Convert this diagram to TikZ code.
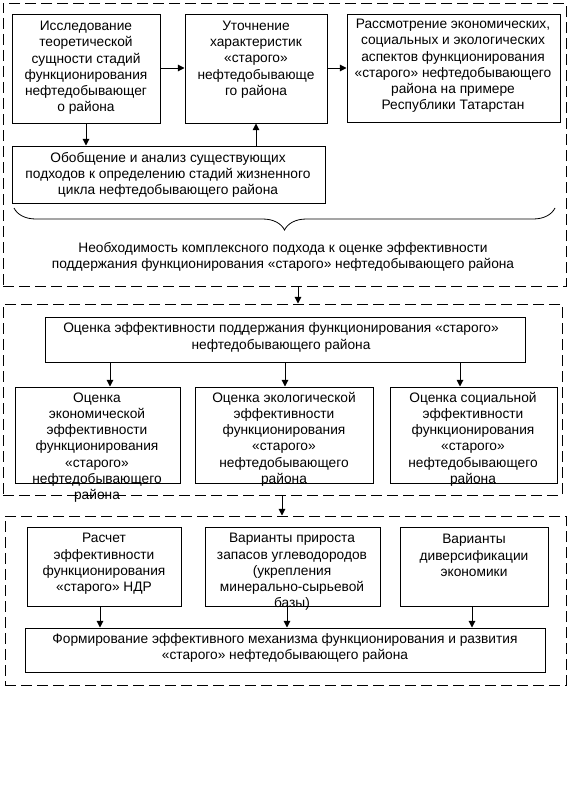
\documentclass[tikz,border=0pt]{standalone}
\usepackage{fontspec}
\setmainfont{Liberation Sans}
\usetikzlibrary{arrows.meta,fit,decorations.pathreplacing}
\tikzset{
  frame/.style={draw, line width=0.75pt, dash pattern=on 8pt off 4pt},
  box/.style={draw, line width=0.75pt, inner sep=0pt, fit={#1}},
  txt/.style={align=center, inner sep=0pt, font=\fontsize{10.3}{12.2}\selectfont},
  arr/.style={line width=0.75pt, -{Triangle[length=5pt,width=5pt]}},
}
\begin{document}
\begin{tikzpicture}[x=0.75pt,y=-0.75pt]
\useasboundingbox (0,0) rectangle (570,785);
% section 1
\node[frame, inner sep=0pt, fit={(3,3) (566,286)}] (s1) {};
\node[box={(12,14) (160,123)}] (a) {};
\node[txt] (at) at (86,68) {Исследование\\теоретической\\сущности стадий\\функционирования\\нефтедобывающег\\о района};
\node[box={(185,14) (327,123)}] (b) {};
\node[txt] (bt) at (256,59.5) {Уточнение\\характеристик\\«старого»\\нефтедобывающе\\го района};
\node[box={(347,14) (560,122)}] (c) {};
\node[txt] (ct) at (453,66) {Рассмотрение экономических,\\социальных и экологических\\аспектов функционирования\\«старого» нефтедобывающего\\района на примере\\Республики Татарстан};
\node[box={(12,146) (325,203)}] (d) {};
\node[txt] (dt) at (168,175) {Обобщение и анализ существующих\\подходов к определению стадий жизненного\\цикла нефтедобывающего района};
\coordinate (brL) at (14,208);
\coordinate (brR) at (555,208);
\draw[line width=0.6pt, decorate, decoration={brace, mirror, amplitude=16.5pt, aspect=0.5}] (brL) -- (brR);
\node[txt] (need) at (283,257) {Необходимость комплексного подхода к оценке эффективности\\поддержания функционирования «старого» нефтедобывающего района};
\draw[arr] (a.east |- 0,68) -- (b.west |- 0,68);
\draw[arr] (b.east |- 0,68) -- (c.west |- 0,68);
\draw[arr] (a.south -| 86,0) -- (d.north -| 86,0);
\draw[arr] (d.north -| 256,0) -- (b.south -| 256,0);
% section 2
\node[frame, inner sep=0pt, fit={(3,304) (562,495)}] (s2) {};
\draw[arr] (s1.south -| 298,0) -- (s2.north -| 298,0);
\node[box={(45,317) (525,362)}] (e) {};
\node[txt] (et) at (281,337.5) {Оценка эффективности поддержания функционирования «старого»\\нефтедобывающего района};
\node[box={(15,387) (180,483)}] (f1) {};
\node[txt] (f1t) at (97,447.5) {Оценка\\экономической\\эффективности\\функционирования\\«старого»\\нефтедобывающего\\района};
\node[box={(195,387) (373,483)}] (f2) {};
\node[txt] (f2t) at (284,439) {Оценка экологической\\эффективности\\функционирования\\«старого»\\нефтедобывающего\\района};
\node[box={(390,387) (557,483)}] (f3) {};
\node[txt] (f3t) at (473,439) {Оценка социальной\\эффективности\\функционирования\\«старого»\\нефтедобывающего\\района};
\draw[arr] (e.south -| 110,0) -- (f1.north -| 110,0);
\draw[arr] (e.south -| 285,0) -- (f2.north -| 285,0);
\draw[arr] (e.south -| 460,0) -- (f3.north -| 460,0);
% section 3
\node[frame, inner sep=0pt, fit={(5,516) (566,685)}] (s3) {};
\draw[arr] (s2.south -| 282,0) -- (s3.north -| 282,0);
\node[box={(27,527) (181,606)}] (g1) {};
\node[txt] (g1t) at (104,564) {Расчет\\эффективности\\функционирования\\«старого» НДР};
\node[box={(205,527) (380,606)}] (g2) {};
\node[txt] (g2t) at (292,572) {Варианты прироста\\запасов углеводородов\\(укрепления\\минерально-сырьевой\\базы)};
\node[box={(400,527) (548,606)}] (g3) {};
\node[txt] (g3t) at (474,555.5) {Варианты\\диверсификации\\экономики};
\node[box={(25,628) (545,672)}] (h) {};
\node[txt] (ht) at (285,648) {Формирование эффективного механизма функционирования и развития\\«старого» нефтедобывающего района};
\draw[arr] (g1.south -| 100,0) -- (h.north -| 100,0);
\draw[arr] (g2.south -| 287,0) -- (h.north -| 287,0);
\draw[arr] (g3.south -| 472,0) -- (h.north -| 472,0);
\end{tikzpicture}
\end{document}
